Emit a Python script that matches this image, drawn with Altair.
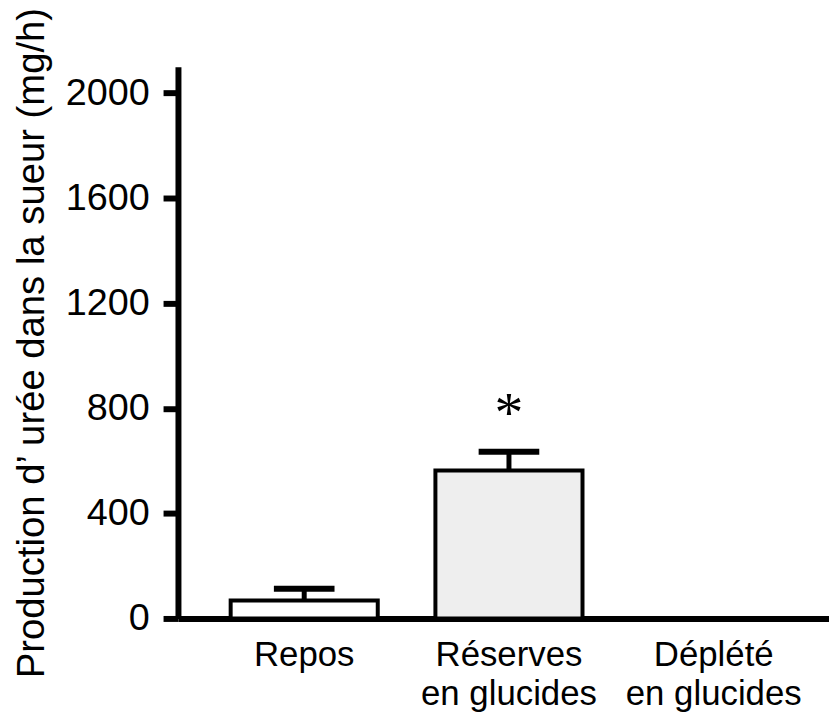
import altair as alt
import pandas as pd

categories = ["Repos", "Réserves\nen glucides", "Déplété\nen glucides"]
means = [68, 563, 0]
errors = [45, 72, 0]
fills = ["#ffffff", "#eeeeee", "#ffffff"]
signif = ["", "*", ""]

y_ticks = [0, 400, 800, 1200, 1600, 2000]
y_title = "Production d’ urée dans la sueur (mg/h)"

df = pd.DataFrame({
    "cat": categories,
    "mean": means,
    "err": errors,
    "fill": fills,
    "sig": signif,
})
df["hi"] = df["mean"] + df["err"]

FONT = "Liberation Sans, Arial, Helvetica, sans-serif"

x_scale = alt.Scale(paddingInner=0.2816, paddingOuter=0.2306, align=0.558)

x_enc = alt.X(
    "cat:N",
    sort=categories,
    scale=x_scale,
    axis=alt.Axis(
        title=None,
        labelAngle=0,
        labelExpr="split(datum.label, '\\n')",
        labelFontSize=35,
        labelFont=FONT,
        labelColor="black",
        labelLineHeight=40,
        labelPadding=19,
        ticks=False,
        domainColor="black",
        domainWidth=6,
        grid=False,
    ),
)

y_scale = alt.Scale(domain=[0, 2100], nice=False)
y_axis = alt.Axis(
    title=y_title,
    values=y_ticks,
    format="d",
    labelFontSize=38,
    labelFont=FONT,
    labelColor="black",
    labelPadding=14,
    tickSize=15,
    tickWidth=6,
    tickColor="black",
    domainColor="black",
    domainWidth=6,
    titleFont=FONT,
    titleFontSize=38.5,
    titleFontWeight="normal",
    titleColor="black",
    titlePadding=14,
    grid=False,
)

base = alt.Chart(df)

bars = base.mark_bar(stroke="black", strokeWidth=4).encode(
    x=x_enc,
    y=alt.Y("mean:Q", scale=y_scale, axis=y_axis),
    fill=alt.Fill("fill:N", scale=None),
)

stems = base.transform_filter("datum.err > 0").mark_rule(
    color="black", strokeWidth=5, opacity=1
).encode(
    x=alt.X("cat:N", sort=categories),
    y="mean:Q",
    y2="hi:Q",
)

caps = base.transform_filter("datum.err > 0").mark_tick(
    color="black", thickness=6, size=61, orient="horizontal", opacity=1
).encode(
    x=alt.X("cat:N", sort=categories),
    y="hi:Q",
)

stars = base.mark_text(
    font="Liberation Serif", fontSize=58, dy=-20, baseline="alphabetic", color="black"
).encode(
    x=alt.X("cat:N", sort=categories),
    y="hi:Q",
    text="sig:N",
)

chart = (
    alt.layer(bars, stems, caps, stars)
    .properties(
        width=655,
        height=555,
        autosize=alt.AutoSizeParams(type="none"),
        padding={"left": 171, "top": 57, "right": 0, "bottom": 100},
        background="white",
    )
    .configure_view(stroke=None)
)

chart.save("out.html", embed_options={"renderer": "svg", "actions": False})
